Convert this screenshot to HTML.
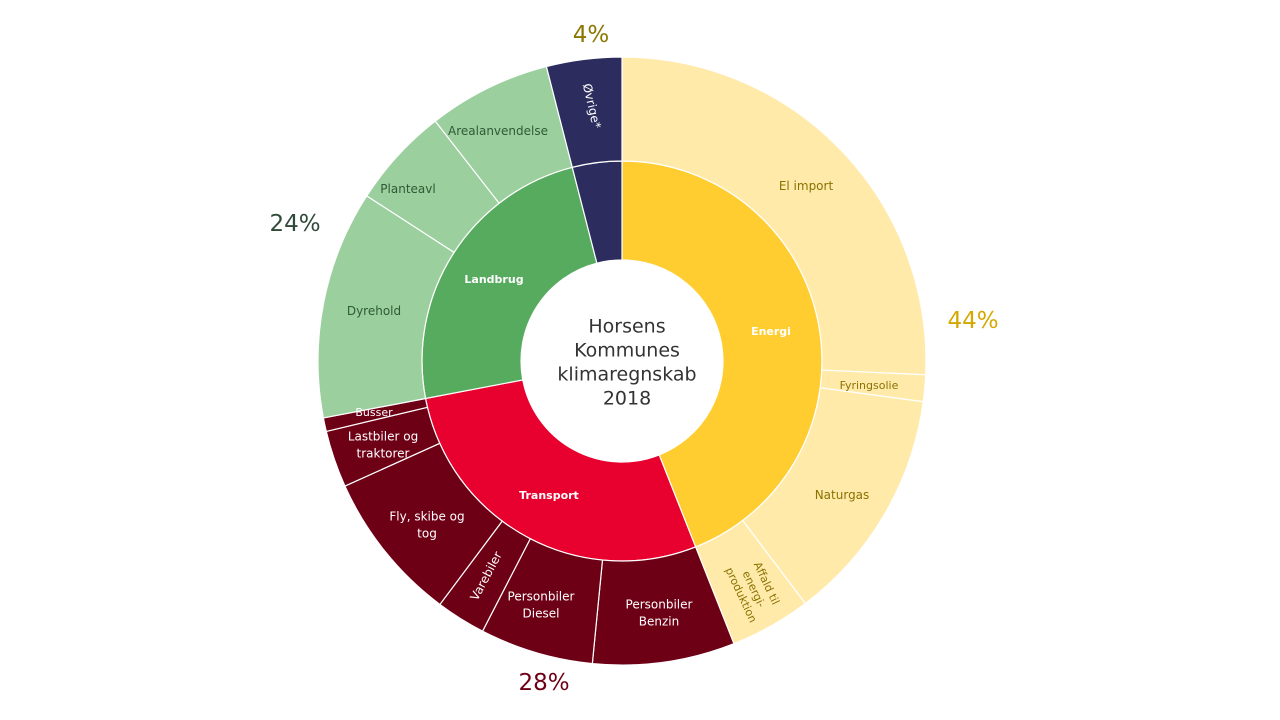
<!DOCTYPE html>
<html><head><meta charset="utf-8"><style>
html,body{margin:0;padding:0;background:#fff;}
svg{display:block;font-family:"DejaVu Sans","Liberation Sans",sans-serif;}
</style></head><body>
<svg id="s" width="1280" height="720" viewBox="0 0 1280 720"></svg>
<script>
const cx=622,cy=361,R0=101,R1=200,R2=304;
const s=document.getElementById('s');
function pt(r,a){a=a*Math.PI/180;return [cx+r*Math.sin(a),cy-r*Math.cos(a)];}
function seg(r0,r1,a0,a1,fill){
 const p1=pt(r1,a0),p2=pt(r1,a1),p3=pt(r0,a1),p4=pt(r0,a0),l=(a1-a0)>180?1:0;
 const d=`M${p1}A${r1},${r1} 0 ${l} 1 ${p2}L${p3}A${r0},${r0} 0 ${l} 0 ${p4}Z`;
 s.insertAdjacentHTML('beforeend',`<path d="${d}" fill="${fill}" stroke="#fff" stroke-width="1.2"/>`);
}
const inner=[[0,158.4,'#FFCD2F'],[158.4,259.2,'#E8002F'],[259.2,345.6,'#57AB5E'],[345.6,360,'#2C2D5E']];
inner.forEach(x=>seg(R0,R1,x[0],x[1],x[2]));
const Ey='#FFEAAA',Td='#6E0016',Lg='#9BCF9E';
const outer=[[0,92.6,Ey],[92.6,97.7,Ey],[97.7,142.9,Ey],[142.9,158.4,Ey],
[158.4,185.6,Td],[185.6,207.3,Td],[207.3,216.8,Td],[216.8,245.7,Td],[245.7,256.6,Td],[256.6,259.2,Td],
[259.2,302.9,Lg],[302.9,322.1,Lg],[322.1,345.6,Lg],[345.6,360,'#2C2D5E']];
outer.forEach(x=>seg(R1,R2,x[0],x[1],x[2]));
function t(x,y,txt,col,size,opts){opts=opts||{};
 const lines=txt.split('|');const lh=opts.lh||size*1.3;
 let h=`<text x="${x}" y="${y}" fill="${col}" font-size="${size}" text-anchor="middle" ${opts.bold?'font-weight="bold"':''} ${opts.rot!==undefined?`transform="rotate(${opts.rot} ${x} ${y})"`:''}>`;
 lines.forEach((l,i)=>{h+=`<tspan x="${x}" y="${y+(i-(lines.length-1)/2)*lh+size*0.35}">${l}</tspan>`});
 s.insertAdjacentHTML('beforeend',h+'</text>');
}
const og='#8a7200',dg='#2e5a35';
t(806,186,'El import',og,12);
t(869,385,'Fyringsolie',og,11);
t(842,495,'Naturgas',og,12);
t(754,589,'Affald til|energi-|produktion',og,11,{rot:65,lh:14});
t(659,613,'Personbiler|Benzin','#fff',12,{lh:17});
t(541,605,'Personbiler|Diesel','#fff',12,{lh:17});
t(486,576,'Varebiler','#fff',12,{rot:-62});
t(427,525,'Fly, skibe og|tog','#fff',12,{lh:17});
t(383,445,'Lastbiler og|traktorer','#fff',12,{lh:17});
t(374,412,'Busser','#fff',11);
t(374,311,'Dyrehold',dg,12);
t(408,189,'Planteavl',dg,12);
t(498,131,'Arealanvendelse',dg,12);
t(592,106,'Øvrige*','#fff',12,{rot:77});
t(771,331,'Energi','#fff',11,{bold:1});
t(549,495,'Transport','#fff',11,{bold:1});
t(494,279,'Landbrug','#fff',11,{bold:1});
t(627,362,'Horsens|Kommunes|klimaregnskab|2018','#333',19,{lh:24});
t(973,320,'44%','#D4A800',23);
t(295,223,'24%','#2f4a38',23);
t(544,682,'28%','#6E0016',23);
t(591,34,'4%','#8B7700',23);
</script>
</body></html>
